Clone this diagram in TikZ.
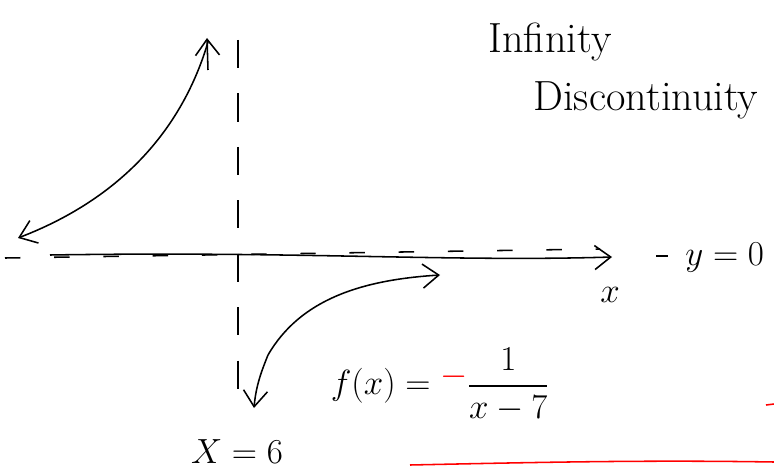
\documentclass[tikz,border=0pt]{standalone}
\usepackage{amsmath}
\usepackage{tikz}
\usetikzlibrary{arrows.meta}

\tikzset{
  hand/.style={font=\fontsize{26}{30}\selectfont},
  bighand/.style={font=\fontsize{30}{34}\selectfont},
  barb/.style={-{Straight Barb[length=4mm,width=6mm]}},
}

\begin{document}
\begin{tikzpicture}[x=0.025cm,y=-0.025cm,line width=1.1pt]
    \useasboundingbox (0,0) rectangle (774,473);
    % asymptotes
    \draw[dash pattern=on 11pt off 24pt] (5,258) -- (600,249);
    \draw[dash pattern=on 20pt off 18pt] (238,40) -- (238,395);
    % axis
    \draw[barb] (50,255) .. controls (300,251) and (450,262) .. (612,257);
    \node[hand] (xlab) at (610,295) {$x$};
    \coordinate (lead) at (656,256);
    \draw (lead) -- ++(12,0);
    \node[hand,right] (yzero) at (680,258) {$y=0$};
    % branches
    \draw[barb] (208,42) .. controls (185,120) and (130,195) .. (18,238);
    \draw[barb] (208,70) -- (207,38);
    \draw[barb] (268,355) .. controls (262,370) and (256,385) .. (254,408);
    \draw[barb] (268,355) .. controls (300,300) and (360,280) .. (440,275);
    % labels
    \node[hand] (vlab) at (237,452) {$X=6$};
    \node[bighand] (title1) at (550,42) {Infinity};
    \node[bighand] (title2) at (646,100) {Discontinuity};
    \node[hand] (fx) at (440,385) {$f(x)=\raisebox{0.6ex}{\textcolor{red}{$-$}}\dfrac{1}{x-7}$};
    % underline
    \draw[red] (410,465) .. controls (550,462) and (650,460) .. (774,462);
    \draw[red] (766,405) -- (774,404);
  \end{tikzpicture}
\end{document}
